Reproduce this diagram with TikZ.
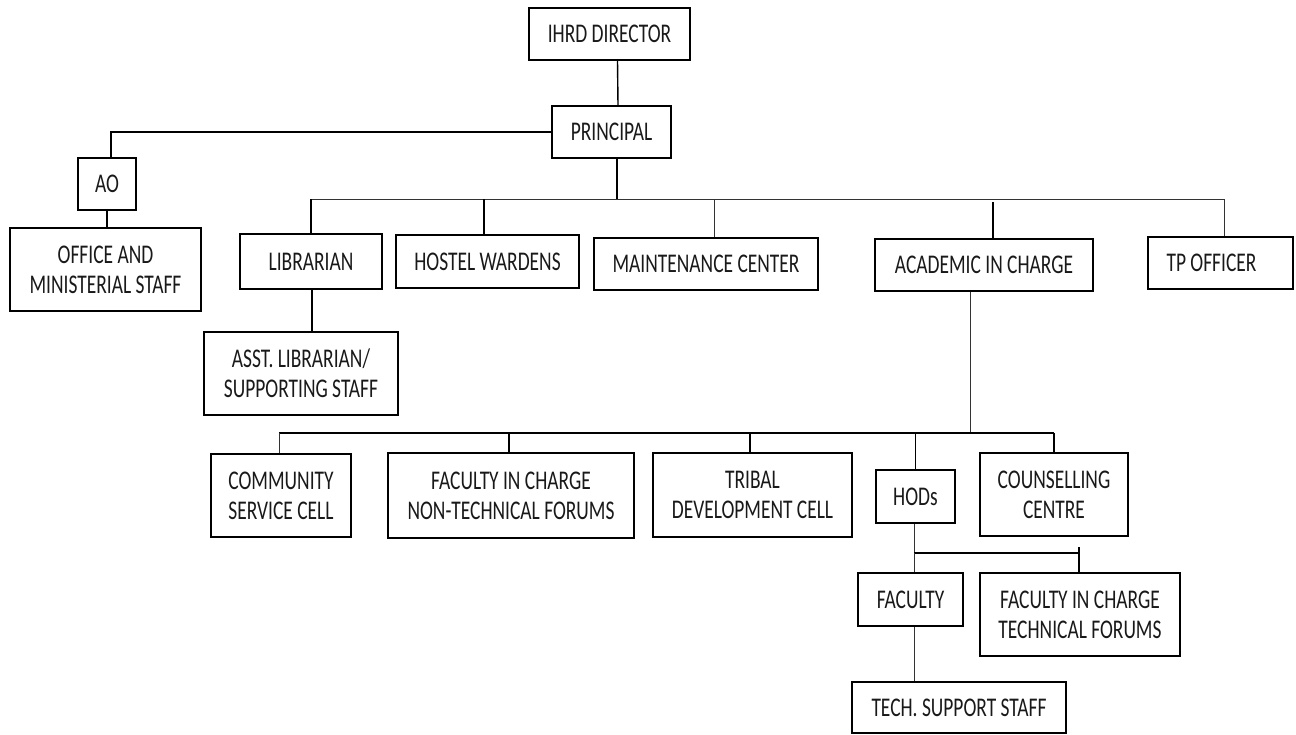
\documentclass[tikz,border=0pt]{standalone}
\usepackage{fontspec}
\setmainfont[FakeStretch=0.72]{Carlito}
\begin{document}
\begin{tikzpicture}[x=1pt,y=1pt,
  box/.style={draw=black, line width=1.7pt, rectangle, align=center, inner sep=0pt,
     text=black!90, font=\fontsize{27}{30}\selectfont},
  thickbox/.style={box, line width=2.6pt},
  conn/.style={draw=black, line width=1.4pt},
  thinconn/.style={draw=black!80, line width=1.0pt}]
\useasboundingbox (0,0) rectangle (1296,-734);
% nodes
\node[box, minimum width=161, minimum height=52] (ihrd) at (609.5,-34) {IHRD DIRECTOR};
\node[box, minimum width=119, minimum height=52] (principal) at (611.5,-132) {PRINCIPAL};
\node[box, line width=1.3pt, minimum width=58, minimum height=52] (ao) at (107,-184) {AO};
\node[box, minimum width=191, minimum height=83] (office) at (105.5,-269.5) {OFFICE AND\\MINISTERIAL STAFF};
\node[box, minimum width=142, minimum height=55] (librarian) at (311,-261.5) {LIBRARIAN};
\node[box, minimum width=183, minimum height=53] (hostel) at (487.5,-261.5) {HOSTEL WARDENS};
\node[thickbox, minimum width=224, minimum height=52] (maint) at (706,-264) {MAINTENANCE CENTER};
\node[box, minimum width=218, minimum height=52] (academic) at (984,-265) {ACADEMIC IN CHARGE};
\node[box, minimum width=145, minimum height=52] (tp) at (1220.5,-263) {TP OFFICER\hspace*{18pt}};
\node[box, minimum width=194, minimum height=83] (asst) at (301,-373.5) {ASST. LIBRARIAN/\\SUPPORTING STAFF};
\node[box, minimum width=140, minimum height=83] (community) at (281,-495.5) {COMMUNITY\\SERVICE CELL};
\node[box, minimum width=246, minimum height=85] (facnt) at (511,-495.5) {FACULTY IN CHARGE\\NON-TECHNICAL FORUMS};
\node[box, minimum width=199, minimum height=84] (tribal) at (752.5,-495) {TRIBAL\\DEVELOPMENT CELL};
\node[box, minimum width=79, minimum height=53] (hods) at (915.5,-496.5) {HODs};
\node[box, minimum width=148, minimum height=83] (counsel) at (1054,-494.5) {COUNSELLING\\CENTRE};
\node[box, minimum width=105, minimum height=53] (faculty) at (910.5,-599.5) {FACULTY};
\node[box, minimum width=200, minimum height=83] (fictf) at (1080,-614.5) {FACULTY IN CHARGE\\TECHNICAL FORUMS};
\node[box, minimum width=214, minimum height=51] (tss) at (959,-707.5) {TECH. SUPPORT STAFF};
% bus coordinates
\coordinate (busA) at (0,-199);
\coordinate (busB) at (0,-433);
\coordinate (busC) at (0,-553);
% connectors
\draw[conn] ([xshift=8]ihrd.south) -- ([xshift=6.5]principal.north);
\draw[conn] (principal.west) -| ([xshift=4]ao.north);
\draw[conn] (ao.south) -- (ao.south |- office.north);
\draw[conn] ([xshift=5.5]principal.south) -- ([xshift=5.5]principal.south |- busA);
\draw[thinconn] (librarian.north |- busA) -- ([xshift=3.5]tp.north |- busA);
\draw[conn] (librarian.north |- busA) -- (librarian.north);
\draw[conn] ([xshift=-3.5]hostel.north |- busA) -- ([xshift=-3.5]hostel.north);
\draw[thinconn] ([xshift=8]maint.north |- busA) -- ([xshift=8]maint.north);
\draw[conn] ([xshift=9,yshift=36]academic.north) -- ([xshift=9]academic.north);
\draw[thinconn] ([xshift=3.5]tp.north |- busA) -- ([xshift=3.5]tp.north);
\draw[conn] ([xshift=1]librarian.south) -- ([xshift=1]librarian.south |- asst.north);
\draw[thinconn] ([xshift=-14]academic.south) -- ([xshift=-14]academic.south |- busB);
\draw[conn] ([xshift=-2]community.north |- busB) -- (counsel.north |- busB);
\draw[thinconn] ([xshift=-2]community.north |- busB) -- ([xshift=-2]community.north);
\draw[conn] ([xshift=-2]facnt.north |- busB) -- ([xshift=-2]facnt.north);
\draw[conn] ([xshift=-2.5]tribal.north |- busB) -- ([xshift=-2.5]tribal.north);
\draw[conn] (hods.north |- busB) -- (hods.north);
\draw[conn] (counsel.north |- busB) -- (counsel.north);
\draw[thinconn] ([xshift=-1.5]hods.south) -- ([xshift=-1.5]hods.south |- busC);
\draw[conn] ([xshift=-1.5]hods.south |- busC) -- ([xshift=-1]fictf.north |- busC);
\draw[thinconn] ([xshift=3.5]faculty.north |- busC) -- ([xshift=3.5]faculty.north);
\draw[conn] ([xshift=-1,yshift=25]fictf.north) -- ([xshift=-1]fictf.north);
\draw[thinconn] ([xshift=3.5]faculty.south) -- ([xshift=3.5]faculty.south |- tss.north);
\end{tikzpicture}
\end{document}
